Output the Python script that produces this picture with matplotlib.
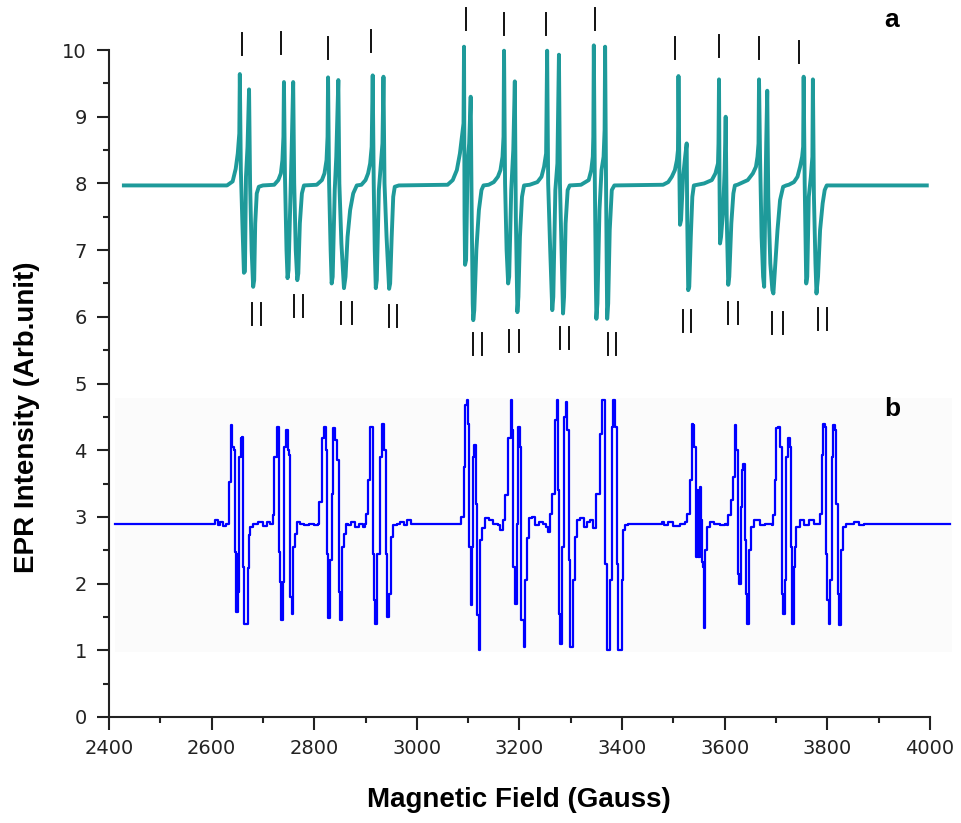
import matplotlib.pyplot as plt
from matplotlib.ticker import MultipleLocator
from matplotlib.patches import Rectangle

# experimental spectrum (a), offset baseline ~8
field_a = [2429, 2630,
           2641, 2647, 2651, 2654, 2655, 2657, 2660, 2663, 2665, 2667, 2670, 2673, 2675, 2678, 2681, 2683, 2685, 2688, 2692, 2700,
           2722, 2730, 2735, 2738, 2740, 2741, 2743, 2746, 2748, 2750, 2753, 2756, 2759, 2761, 2764, 2767, 2769, 2772, 2776, 2780,
           2805, 2815, 2820, 2824, 2826, 2827, 2829, 2832, 2834, 2836, 2840, 2843, 2847, 2849, 2853, 2858, 2861, 2865, 2870, 2876, 2883,
           2892, 2900, 2905, 2909, 2912, 2914, 2916, 2918, 2920, 2922, 2926, 2930, 2933, 2935, 2937, 2941, 2946, 2948, 2951, 2954, 2957, 2965,
           3060, 3070, 3078, 3084, 3088, 3091, 3092, 3093, 3094, 3096, 3099, 3102, 3105, 3107, 3109, 3110, 3112, 3116, 3121, 3126, 3130,
           3140, 3150, 3158, 3163, 3167, 3169, 3170, 3172, 3175, 3178, 3180, 3184, 3188, 3191, 3193, 3196, 3198, 3201, 3205, 3209,
           3220, 3235, 3243, 3248, 3252, 3254, 3256, 3260, 3264, 3266, 3270, 3274, 3277, 3279, 3282, 3285, 3287, 3290, 3294, 3298,
           3320, 3335, 3340, 3343, 3344, 3345, 3347, 3349, 3350, 3352, 3356, 3360, 3364, 3366, 3367, 3369, 3371, 3373, 3376, 3380, 3385,
           3480, 3490, 3497, 3503, 3507, 3509, 3510, 3512, 3513, 3515, 3519, 3523, 3526, 3527, 3529, 3531, 3534, 3537, 3540,
           3560, 3575, 3582, 3587, 3588, 3589, 3590, 3591, 3593, 3597, 3600, 3602, 3604, 3607, 3609, 3613, 3617, 3620,
           3625, 3645, 3655, 3661, 3664, 3666, 3667, 3669, 3672, 3675, 3677, 3679, 3681, 3683, 3685, 3689, 3693, 3695, 3698, 3703, 3708, 3714, 3720,
           3725, 3735, 3742, 3747, 3751, 3753, 3754, 3756, 3758, 3759, 3761, 3764, 3768, 3771, 3772, 3774, 3777, 3779, 3782, 3786, 3791, 3795, 3799, 3994]
epr_a = [7.97, 7.97,
         8.03, 8.22, 8.45, 8.75, 9.64, 8.20, 7.40, 6.66, 6.68, 8.10, 8.55, 9.41, 8.00, 7.00, 6.45, 6.55, 7.40, 7.85, 7.95, 7.97,
         7.98, 8.05, 8.15, 8.35, 8.70, 9.52, 8.10, 7.00, 6.58, 6.70, 7.60, 8.50, 9.52, 8.00, 7.00, 6.55, 6.65, 7.40, 7.85, 7.97,
         7.98, 8.05, 8.15, 8.35, 8.70, 9.59, 8.00, 7.00, 6.50, 6.60, 7.90, 8.40, 9.55, 8.00, 7.10, 6.43, 6.60, 7.20, 7.60, 7.85, 7.97,
         7.98, 8.05, 8.15, 8.30, 8.55, 9.62, 8.00, 7.00, 6.43, 6.55, 7.90, 8.30, 8.60, 9.60, 8.00, 7.20, 6.42, 6.50, 7.20, 7.80, 7.95, 7.97,
         7.98, 8.05, 8.20, 8.45, 8.70, 8.90, 10.05, 7.50, 6.78, 6.85, 8.30, 8.60, 9.30, 7.50, 6.20, 5.95, 6.10, 7.00, 7.60, 7.90, 7.97,
         7.98, 8.02, 8.10, 8.20, 8.40, 8.70, 9.99, 8.00, 7.00, 6.50, 6.60, 7.90, 8.50, 9.53, 7.50, 6.07, 6.30, 7.20, 7.80, 7.97,
         7.98, 8.02, 8.10, 8.25, 8.45, 9.99, 8.00, 7.00, 6.10, 6.30, 7.90, 8.30, 9.93, 8.00, 7.00, 6.05, 6.30, 7.40, 7.90, 7.97,
         7.98, 8.05, 8.20, 8.40, 8.70, 10.07, 8.00, 6.50, 5.97, 6.20, 7.60, 8.20, 8.40, 8.80, 10.05, 7.80, 5.97, 6.20, 7.30, 7.90, 7.97,
         7.98, 8.02, 8.10, 8.20, 8.35, 8.50, 9.61, 8.00, 7.38, 7.45, 8.10, 8.40, 8.60, 7.50, 6.40, 6.45, 7.20, 7.80, 7.97,
         8.00, 8.05, 8.15, 8.30, 8.60, 9.56, 8.00, 7.10, 7.20, 7.60, 8.20, 9.00, 7.50, 6.48, 6.60, 7.40, 7.85, 7.97,
         7.98, 8.05, 8.15, 8.25, 8.40, 8.60, 9.56, 8.40, 7.20, 6.60, 6.45, 7.60, 8.60, 9.39, 7.80, 6.80, 6.40, 6.35, 6.70, 7.30, 7.75, 7.95, 7.97,
         7.98, 8.02, 8.10, 8.25, 8.40, 8.55, 9.60, 8.00, 7.00, 6.50, 6.60, 7.80, 8.10, 8.40, 9.56, 7.80, 6.80, 6.35, 6.60, 7.30, 7.70, 7.90, 7.97, 7.97]

# simulated spectrum (b), baseline ~2.9
field_b = [2412, 2600, 2606, 2612, 2617, 2622, 2628,
           2633, 2637, 2640, 2643, 2646, 2648, 2651, 2652, 2654, 2657, 2660, 2662, 2664, 2667, 2670, 2672, 2675, 2681, 2690, 2700, 2708, 2714,
           2719, 2722, 2727, 2731, 2733, 2736, 2740, 2742, 2745, 2748, 2750, 2753, 2757, 2759, 2763, 2767, 2772, 2780, 2790, 2800, 2808,
           2810, 2815, 2819, 2822, 2824, 2827, 2831, 2834, 2837, 2840, 2844, 2848, 2850, 2854, 2858, 2861, 2866, 2872, 2880, 2888, 2895, 2899,
           2901, 2905, 2909, 2912, 2914, 2917, 2919, 2922, 2928, 2933, 2936, 2940, 2942, 2946, 2949, 2953, 2961, 2968, 2975, 2981, 2988, 2996,
           3085, 3087, 3091, 3094, 3097, 3100, 3102, 3105, 3107, 3109, 3112, 3115, 3118, 3121, 3124, 3128, 3133, 3140, 3149, 3158, 3163, 3168,
           3172, 3178, 3183, 3185, 3188, 3191, 3195, 3198, 3201, 3204, 3208, 3211, 3214, 3218, 3224, 3230, 3238, 3245, 3252, 3256, 3260,
           3263, 3269, 3273, 3275, 3278, 3280, 3283, 3287, 3291, 3293, 3296, 3298, 3302, 3305, 3308, 3312, 3318, 3325, 3331, 3338, 3344,
           3350, 3357, 3361, 3365, 3367, 3370, 3373, 3377, 3380, 3383, 3387, 3390, 3393, 3396, 3399, 3402, 3406, 3412,
           3478, 3482, 3490, 3499, 3513, 3522,
           3527, 3532, 3536, 3539, 3541, 3544, 3547, 3549, 3552, 3554, 3556, 3558, 3560, 3562, 3566, 3572, 3580, 3590, 3600, 3604,
           3607, 3612, 3616, 3620, 3623, 3626, 3628, 3631, 3634, 3636, 3639, 3642, 3644, 3647, 3651, 3658, 3668, 3678, 3686, 3692,
           3695, 3698, 3701, 3704, 3708, 3711, 3714, 3717, 3719, 3724, 3727, 3730, 3732, 3735, 3738, 3740, 3746, 3755, 3765, 3775, 3782,
           3786, 3790, 3792, 3795, 3797, 3800, 3803, 3805, 3809, 3812, 3815, 3818, 3821, 3823, 3826, 3830, 3837, 3847, 3853, 3862, 3872, 4040]
epr_b = [2.90, 2.90, 2.95, 2.88, 2.93, 2.87, 2.90,
         3.52, 4.38, 4.05, 4.00, 2.48, 1.58, 2.45, 1.88, 3.90, 4.18, 4.20, 2.25, 1.40, 1.40, 2.23, 2.73, 2.85, 2.90, 2.93, 2.87, 2.93, 2.90,
         3.03, 3.90, 4.35, 2.48, 2.03, 1.45, 2.03, 4.05, 4.31, 4.00, 3.93, 1.80, 1.55, 2.55, 2.75, 2.93, 2.90, 2.88, 2.90, 2.88, 2.90,
         3.23, 4.18, 4.35, 4.00, 2.45, 1.48, 2.35, 3.35, 4.33, 4.15, 3.85, 1.88, 1.45, 2.55, 2.75, 2.90, 2.88, 2.93, 2.85, 2.90, 2.85, 2.90,
         3.05, 3.55, 4.35, 4.35, 2.45, 1.75, 1.40, 2.45, 3.90, 4.40, 4.00, 2.45, 1.50, 1.85, 2.70, 2.88, 2.90, 2.93, 2.88, 2.95, 2.90, 2.90,
         2.90, 3.00, 3.75, 4.68, 4.75, 4.40, 2.55, 1.68, 2.55, 3.90, 4.08, 3.20, 1.53, 1.00, 2.65, 2.83, 2.98, 2.95, 2.90, 2.88, 2.80, 2.95,
         3.33, 4.18, 4.75, 4.30, 2.25, 1.70, 2.90, 4.35, 4.05, 1.45, 1.05, 2.05, 2.68, 2.98, 3.00, 2.88, 2.93, 2.90, 2.85, 2.78, 3.05,
         3.35, 4.45, 4.75, 3.40, 1.55, 1.10, 2.55, 4.50, 4.73, 4.30, 2.35, 1.05, 1.05, 2.05, 2.70, 2.95, 2.98, 2.85, 2.93, 2.95, 2.83,
         3.35, 4.25, 4.75, 4.75, 2.30, 1.00, 1.00, 2.05, 4.35, 4.75, 4.35, 2.30, 1.00, 1.00, 2.05, 2.80, 2.88, 2.90,
         2.93, 2.88, 2.93, 2.87, 2.90, 2.92,
         3.05, 3.55, 4.40, 4.38, 4.05, 2.40, 3.40, 2.40, 3.45, 2.95, 2.32, 2.25, 1.33, 2.50, 2.85, 2.93, 2.90, 2.88, 2.90, 2.88,
         3.03, 3.25, 3.60, 4.38, 4.00, 2.15, 2.00, 3.15, 3.70, 3.80, 2.65, 1.85, 1.40, 2.50, 2.85, 2.95, 2.88, 2.90, 2.90, 2.88,
         3.03, 3.55, 4.33, 4.35, 4.05, 1.85, 1.55, 2.05, 3.90, 4.18, 4.05, 2.55, 1.40, 2.25, 2.55, 2.85, 2.95, 2.88, 2.95, 2.90, 2.90,
         3.05, 3.93, 4.40, 4.35, 2.45, 1.75, 1.40, 2.05, 3.90, 4.38, 4.30, 3.20, 1.85, 1.38, 2.50, 2.85, 2.90, 2.90, 2.93, 2.88, 2.90, 2.90]

# line-position markers on spectrum (a)
upper_marks = [2660, 2735, 2827, 2910, 3096, 3170, 3252, 3347, 3504, 3589, 3667, 3745]
upper_tops = [10.25, 10.27, 10.19, 10.30, 10.63, 10.55, 10.55, 10.63, 10.19, 10.22, 10.19, 10.13]
lower_marks = [(2679, 2696), (2761, 2779), (2853, 2873), (2946, 2962),
               (3110, 3128), (3180, 3199), (3280, 3296), (3373, 3389),
               (3518, 3534), (3607, 3626), (3693, 3713), (3782, 3799)]
lower_tops = [6.21, 6.33, 6.22, 6.18, 5.76, 5.80, 5.85, 5.76, 6.10, 6.22, 6.07, 6.13]
mark_len = 0.33

fig = plt.figure(figsize=(9.62, 8.23), dpi=100)
ax = fig.add_axes([0.1133, 0.1288, 0.8773, 0.8104])

# faint panel behind the simulated trace
ax.add_patch(Rectangle((2412, 0.97), 1631, 3.81, facecolor='#fbfbfb', edgecolor='none', zorder=0))

ax.plot(field_a, epr_a, color='#1e9a9a', linewidth=2.8, solid_joinstyle='round', clip_on=False, zorder=3)
ax.plot(field_b, epr_b, color='#0000ff', linewidth=1.6, drawstyle='steps-post', clip_on=False, zorder=3)

for x, top in zip(upper_marks, upper_tops):
    ax.plot([x, x], [top - mark_len, top], color='#111111', linewidth=1.4, clip_on=False)
for (x1, x2), top in zip(lower_marks, lower_tops):
    for x in (x1, x2):
        ax.plot([x, x], [top - mark_len, top], color='#111111', linewidth=1.4, clip_on=False)

ax.text(3912, 10.35, 'a', fontsize=19, fontweight='bold', fontfamily='Liberation Sans')
ax.text(3912, 4.52, 'b', fontsize=19, fontweight='bold', fontfamily='Liberation Sans')

ax.set_xlim(2400, 4045)
ax.set_ylim(0, 10)
ax.spines['top'].set_visible(False)
ax.spines['right'].set_visible(False)
ax.spines['bottom'].set_bounds(2400, 4000)
ax.spines['left'].set_bounds(0, 10)
for s in ('left', 'bottom'):
    ax.spines[s].set_linewidth(1.5)
    ax.spines[s].set_color('#222222')

ax.set_xticks(range(2400, 4001, 200))
ax.xaxis.set_minor_locator(MultipleLocator(100))
ax.set_yticks(range(0, 11))
ax.yaxis.set_minor_locator(MultipleLocator(0.5))
ax.tick_params(which='major', direction='out', length=9, width=1.5, color='#222222',
               labelsize=14, labelcolor='#222222', pad=7)
ax.tick_params(which='minor', direction='out', length=4.5, width=1.5, color='#222222')
ax.set_facecolor('white')

fig.text(519 / 962, 0.028, 'Magnetic Field (Gauss)', fontsize=20, fontweight='bold',
         fontfamily='Liberation Sans', ha='center', va='center')
fig.text(0.028, 0.493, 'EPR Intensity (Arb.unit)', fontsize=20, fontweight='bold',
         fontfamily='Liberation Sans', ha='center', va='center', rotation=90)

fig.savefig('out.png', dpi=100)
